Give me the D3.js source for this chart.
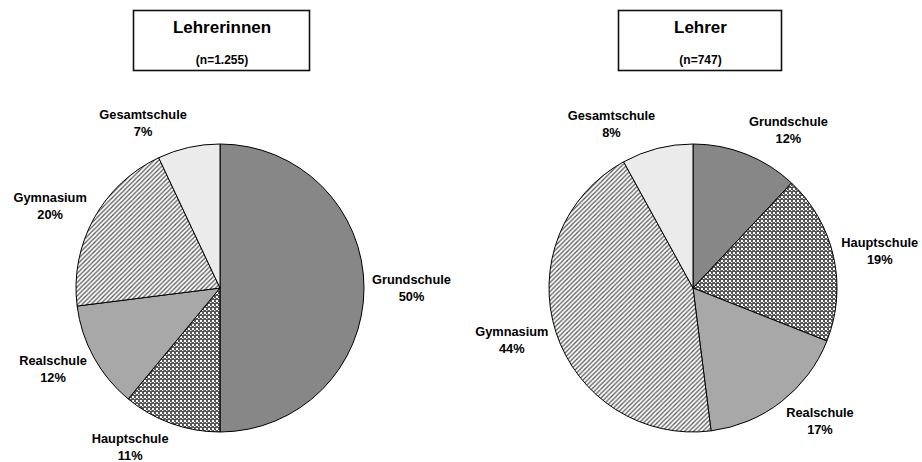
<!DOCTYPE html>
<html>
<head>
<meta charset="utf-8">
<script src="https://cdn.jsdelivr.net/npm/d3@7"></script>
<style>
  body { margin: 0; background: #fff; }
  text { font-family: "Liberation Sans", Arial, sans-serif; font-weight: bold; fill: #000; }
</style>
</head>
<body>
<svg id="chart" width="922" height="462"></svg>
<script>
// data
var categories = ["Grundschule", "Hauptschule", "Realschule", "Gymnasium", "Gesamtschule"];
var lehrerinnenValues = [50, 11, 12, 20, 7];
var lehrerValues = [12, 19, 17, 44, 8];
var chartTitles = ["Lehrerinnen", "Lehrer"];
var sampleSizes = ["(n=1.255)", "(n=747)"];

var svg = d3.select('#chart');
var defs = svg.append('defs');

// stripes for Gymnasium
var stripes = defs.append('pattern')
    .attr('id', 'stripes')
    .attr('patternUnits', 'userSpaceOnUse')
    .attr('width', 4.5)
    .attr('height', 4.5);
stripes.append('rect').attr('width', 4.5).attr('height', 4.5).attr('fill', '#fff');
stripes.append('path')
    .attr('d', 'M-1,1 L1,-1 M0,4.5 L4.5,0 M3.5,5.5 L5.5,3.5')
    .attr('stroke', '#555')
    .attr('stroke-width', 1.25);

// weave for Hauptschule
var weave = defs.append('pattern')
    .attr('id', 'weave')
    .attr('patternUnits', 'userSpaceOnUse')
    .attr('width', 4)
    .attr('height', 4);
weave.append('rect').attr('width', 4).attr('height', 4).attr('fill', '#555');
weave.append('rect').attr('x', 0).attr('y', 0).attr('width', 2).attr('height', 2).attr('fill', '#fff');
weave.append('rect').attr('x', 2).attr('y', 2).attr('width', 1).attr('height', 1).attr('fill', '#fff');
weave.append('rect').attr('x', 3).attr('y', 2).attr('width', 1).attr('height', 1).attr('fill', '#999');

var fills = d3.scaleOrdinal()
    .domain(categories)
    .range(['#878787', 'url(#weave)', '#a8a8a8', 'url(#stripes)', '#ebebeb']);

var radius = 144;
var pie = d3.pie().sort(null).value(d => d);
var arc = d3.arc().innerRadius(0).outerRadius(radius);

var charts = [
    {values: lehrerinnenValues, cx: 220, cy: 288, box: [133, 10, 176, 60]},
    {values: lehrerValues, cx: 693, cy: 288, box: [618, 10, 163, 60]}
];

charts.forEach(function (c, ci) {
    // title box
    var b = c.box;
    svg.append('rect')
        .attr('x', b[0] + 0.5).attr('y', b[1] + 0.5)
        .attr('width', b[2]).attr('height', b[3])
        .attr('fill', '#fff')
        .attr('stroke', '#111')
        .attr('stroke-width', 1.6);
    svg.append('text')
        .attr('x', b[0] + b[2] / 2 + 1)
        .attr('y', 33)
        .attr('text-anchor', 'middle')
        .style('font-size', '17px')
        .text(chartTitles[ci]);
    svg.append('text')
        .attr('x', b[0] + b[2] / 2 + 1)
        .attr('y', 64)
        .attr('text-anchor', 'middle')
        .style('font-size', '12px')
        .text(sampleSizes[ci]);

    var g = svg.append('g')
        .attr('transform', 'translate(' + c.cx + ',' + c.cy + ')');

    var arcs = pie(c.values);

    g.selectAll('path')
        .data(arcs)
        .enter()
        .append('path')
        .attr('d', arc)
        .attr('fill', (d, i) => fills(categories[i]))
        .attr('stroke', '#000')
        .attr('stroke-width', 1);

    // labels, excel style: box corner sits on a point just outside the rim
    arcs.forEach(function (d, i) {
        var a = (d.startAngle + d.endAngle) / 2;
        var px = Math.sin(a) * (radius + 8);
        var py = -Math.cos(a) * (radius + 8);
        var label = g.append('text')
            .attr('text-anchor', 'middle')
            .style('font-size', '12.8px');
        var t1 = label.append('tspan').text(categories[i]);
        var t2 = label.append('tspan').text(c.values[i] + '%');
        var w = Math.max(t1.node().getComputedTextLength(), t2.node().getComputedTextLength());
        var h = 34;
        var lx = px + (Math.sin(a) >= 0 ? 1 : -1) * w / 2;
        if (Math.abs(Math.sin(a)) < 0.05) lx = px;
        var ly = py - Math.cos(a) * h / 2;
        // keep the lowest labels inside the picture
        ly = Math.min(ly, 460 - c.cy - 12.5);
        t1.attr('x', lx).attr('y', ly - 4.5);
        t2.attr('x', lx).attr('y', ly + 12.5);
    });
});
</script>
</body>
</html>
